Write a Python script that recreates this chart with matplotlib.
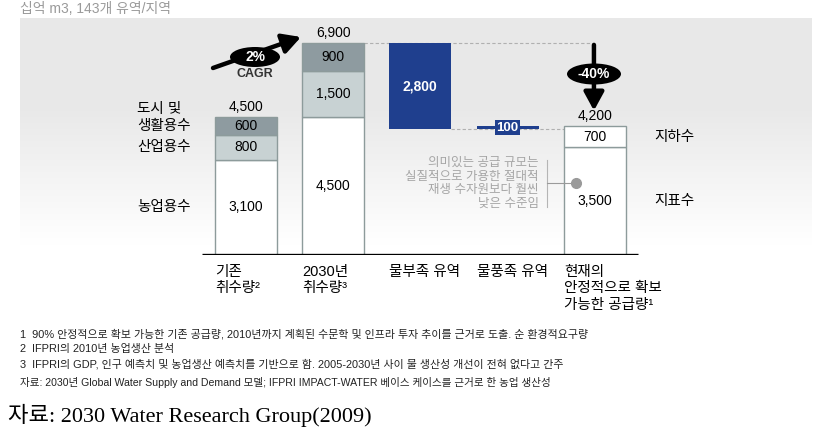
import numpy as np
import matplotlib.pyplot as plt
from matplotlib.patches import Ellipse

plt.rcParams['font.family'] = ['Liberation Sans', 'Noto Sans CJK KR']

# ---- data (billion m3, 143 basins/regions) ----
categories = ['기존\n취수량²', '2030년\n취수량³', '물부족 유역', '물풍족 유역',
              '현재의\n안정적으로 확보\n가능한 공급량¹']
agri = [3100, 4500]           # 농업용수
industry = [800, 1500]        # 산업용수
municipal = [600, 900]        # 도시 및 생활용수
shortfall = 2800              # 물부족 유역
surplus = 100                 # 물풍족 유역
surface = 3500                # 지표수
ground = 700                  # 지하수
cagr = '2%'
gap = '-40%'

totals = [a + i + m for a, i, m in zip(agri, industry, municipal)]
supply = surface + ground

# colours
c_dark = '#8e9ba0'
c_light = '#c8d2d3'
c_edge = '#8d9b9b'
c_blue = '#1f3f8e'
c_dash = '#b0b0b0'

fig = plt.figure(figsize=(8.29, 4.38), dpi=100)
ax = fig.add_axes([20 / 829, 1 - 255 / 438, 792 / 829, 237 / 438])
ax.set_xlim(-2.59, 6.49)
ax.set_ylim(0, 7715)
ax.axis('off')

# background panel, fading to white at the bottom
py = np.linspace(18, 255, 200)
g = np.where(py < 110, 0.913, 0.913 + (1 - 0.913) * np.clip((py - 110) / 135, 0, 1))
grad = np.dstack([g, g, g]).reshape(-1, 1, 3)
ax.imshow(grad, extent=[0, 1, 0, 1], transform=ax.transAxes, aspect='auto', zorder=0)

w = 0.71
x = np.arange(len(categories))

# demand bars
ax.bar(x[:2], agri, w, color='white', edgecolor=c_edge, lw=1, zorder=2)
ax.bar(x[:2], industry, w, bottom=agri, color=c_light, edgecolor=c_edge, lw=1, zorder=2)
ax.bar(x[:2], municipal, w, bottom=np.add(agri, industry), color=c_dark,
       edgecolor=c_edge, lw=1, zorder=2)

# gap bars
ax.bar(x[2], shortfall, w, bottom=totals[1] - shortfall, color=c_blue, zorder=2)
ax.bar(x[3], surplus, w, bottom=totals[1] - shortfall, color=c_blue, zorder=2)

# supply bar
ax.bar(x[4], surface, w, color='white', edgecolor=c_edge, lw=1, zorder=2)
ax.bar(x[4], ground, w, bottom=surface, color='white', edgecolor=c_edge, lw=1, zorder=2)

# baseline
ax.plot([-0.505, 4.49], [0, 0], color='black', lw=2.4, zorder=3, solid_capstyle='butt')

# dashed connectors
ax.plot([x[1] + w / 2, x[4] - 0.03], [totals[1]] * 2, color=c_dash, lw=0.8,
        dashes=(3, 2), zorder=1)
ax.plot([x[2] + w / 2, x[4] - w / 2], [totals[1] - shortfall] * 2, color=c_dash,
        lw=0.8, dashes=(3, 2), zorder=1)

# segment values
for i in range(2):
    ax.text(x[i], agri[i] / 2, f'{agri[i]:,}', ha='center', va='center', fontsize=10, zorder=4)
    ax.text(x[i], agri[i] + industry[i] / 2, f'{industry[i]:,}', ha='center', va='center',
            fontsize=10, zorder=4)
    ax.text(x[i], agri[i] + industry[i] + municipal[i] / 2, f'{municipal[i]:,}', ha='center',
            va='center', fontsize=10, zorder=4)
    ax.annotate(f'{totals[i]:,}', (x[i], totals[i]), xytext=(0, 2), textcoords='offset points',
                ha='center', va='bottom', fontsize=10)

ax.text(x[2], totals[1] - shortfall / 2, f'{shortfall:,}', ha='center', va='center',
        fontsize=10, color='white', fontweight='bold', zorder=4)
ax.text(x[3], totals[1] - shortfall + surplus / 2, f'{surplus:,}', ha='center', va='center',
        fontsize=9.5, color='white', fontweight='bold', zorder=4,
        bbox=dict(boxstyle='square,pad=0.12', fc=c_blue, ec='none'))

ax.text(x[4], surface / 2, f'{surface:,}', ha='center', va='center', fontsize=10, zorder=4)
ax.text(x[4], surface + ground / 2, f'{ground:,}', ha='center', va='center', fontsize=10, zorder=4)
ax.annotate(f'{supply:,}', (x[4], supply), xytext=(0, 2), textcoords='offset points',
            ha='center', va='bottom', fontsize=10)

# segment labels
lab_x = -1.25
ax.text(lab_x, agri[0] / 2, '농업용수', ha='left', va='center', fontsize=10.5)
ax.text(lab_x, agri[0] + industry[0] / 2, '산업용수', ha='left', va='center', fontsize=10.5)
ax.text(lab_x, totals[0] - municipal[0] / 2, '생활용수', ha='left', va='center', fontsize=10.5)
ax.annotate('도시 및', (lab_x, totals[0] - municipal[0] / 2), xytext=(0, 12),
            textcoords='offset points', ha='left', va='center', fontsize=10.5)
ax.text(4.68, surface + ground / 2, '지하수', ha='left', va='center', fontsize=10.5)
ax.text(4.68, surface / 2, '지표수', ha='left', va='center', fontsize=10.5)

# category labels under the baseline
for i, c in enumerate(categories):
    ax.annotate(c, (x[i] - w / 2, 0), xytext=(0, -7), textcoords='offset points',
                ha='left', va='top', fontsize=10.5, linespacing=1.25)

# note with bracket and dot
note = '의미있는 공급 규모는\n실질적으로 가용한 절대적\n재생 수자원보다 훨씬\n낮은 수준임'
ax.text(3.36, 2330, note, ha='right', va='center', fontsize=9, color='#a5a5a5',
        linespacing=1.2, multialignment='right')
ax.plot([3.45, 3.45], [1560, 3090], color='#b5b5b5', lw=0.8, zorder=3)
ax.plot([3.45, 3.79], [2340, 2340], color='#9a9a9a', lw=0.8, zorder=3)
ax.plot(3.79, 2340, 'o', color='#9a9a9a', ms=7, zorder=5)

# -40% arrow
ax.annotate('', xy=(x[4] - 0.01, supply + 500), xytext=(x[4] - 0.01, totals[1] - 60),
            arrowprops=dict(arrowstyle='-|>,head_length=0.55,head_width=0.3', lw=3.2,
                            color='black', mutation_scale=20, shrinkA=0, shrinkB=0), zorder=5)
fig.add_artist(Ellipse((594 / 829, 1 - 74 / 438), 54 / 829, 21 / 438,
                       transform=fig.transFigure, fc='black', ec='none', zorder=6))
fig.text(594 / 829, 1 - 74 / 438, gap, ha='center', va='center', fontsize=10, color='white',
         fontweight='bold', zorder=7)

# CAGR arrow (figure pixels)
ax.annotate('', xy=(301, 438 - 37), xytext=(213, 438 - 68), xycoords='figure pixels',
            textcoords='figure pixels',
            arrowprops=dict(arrowstyle='-|>,head_length=0.55,head_width=0.3', lw=3.2,
                            color='black', mutation_scale=20, shrinkA=0, shrinkB=0))
fig.add_artist(Ellipse((255 / 829, 1 - 57 / 438), 50 / 829, 20 / 438,
                       transform=fig.transFigure, fc='black', ec='none', zorder=6))
fig.text(256 / 829, 1 - 57 / 438, cagr, ha='center', va='center', fontsize=10,
         color='white', fontweight='bold', zorder=7)
fig.text(255 / 829, 1 - 74 / 438, 'CAGR', ha='center', va='center', fontsize=9,
         color='#333333', fontweight='bold')

# unit
fig.text(20 / 829, 1 - 9 / 438, '십억 m3, 143개 유역/지역', ha='left', va='center',
         fontsize=10, color='#9a9a9a')

# footnotes
foot = ['1  90% 안정적으로 확보 가능한 기존 공급량, 2010년까지 계획된 수문학 및 인프라 투자 추이를 근거로 도출. 순 환경적요구량',
        '2  IFPRI의 2010년 농업생산 분석',
        '3  IFPRI의 GDP, 인구 예측치 및 농업생산 예측치를 기반으로 함. 2005-2030년 사이 물 생산성 개선이 전혀 없다고 간주']
for k, t in enumerate(foot):
    fig.text(20 / 829, 1 - (334 + 15 * k) / 438, t, ha='left', va='center', fontsize=7.9,
             color='#222222')
fig.text(20 / 829, 1 - 382 / 438,
         '자료: 2030년 Global Water Supply and Demand 모델; IFPRI IMPACT-WATER 베이스 케이스를 근거로 한 농업 생산성',
         ha='left', va='center', fontsize=7.6, color='#222222')

fig.text(8 / 829, 1 - 415 / 438, '자료: 2030 Water Research Group(2009)', ha='left',
         va='center', fontsize=16, family=['Liberation Serif', 'Noto Sans CJK KR'])

fig.savefig('out.png', dpi=100)
